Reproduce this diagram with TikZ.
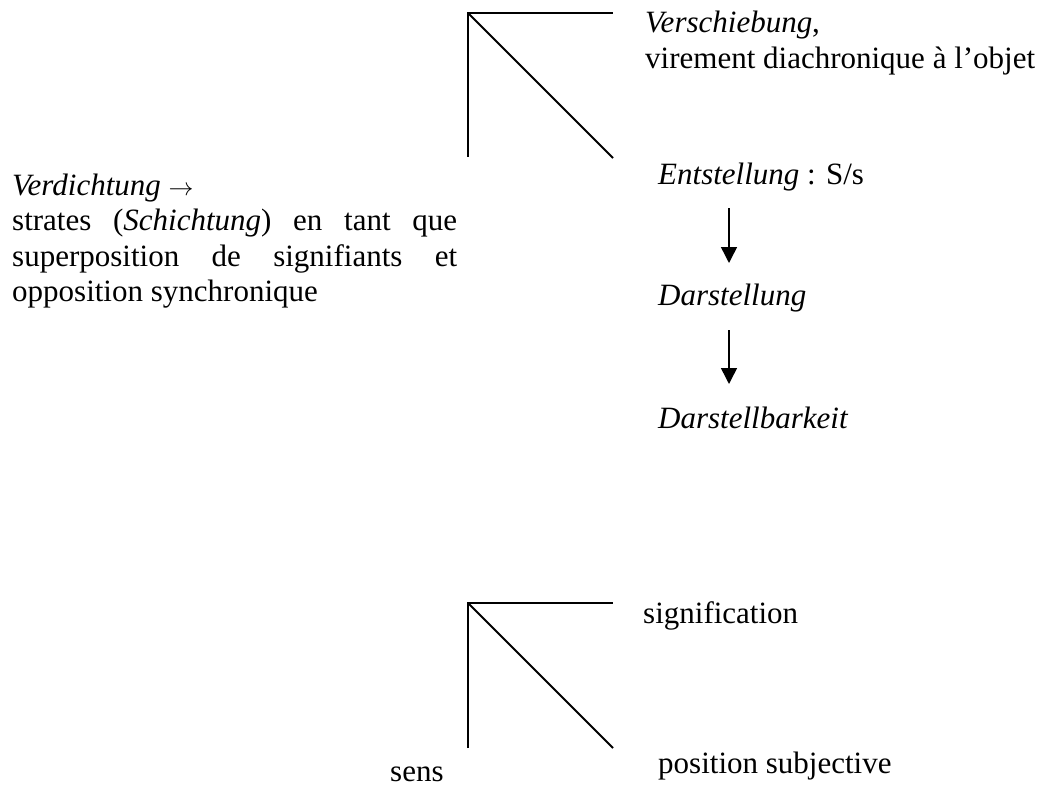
\documentclass[tikz,border=0pt]{standalone}
\usepackage{fontspec}
\setmainfont{Liberation Serif}
\usetikzlibrary{arrows.meta}
\begin{document}
\begin{tikzpicture}[x=1pt,y=-1pt,
  txt/.style={anchor=base west,inner sep=0pt,font=\fontsize{31}{35.5}\selectfont},
  ln/.style={line width=1.8pt},
  arr/.style={line width=1.5pt,-{Triangle[length=16pt,width=16pt]}}]
\useasboundingbox (0,0) rectangle (1047,789);
% top bracket
\coordinate (t0) at (468,13);
\coordinate (t1) at (468,157);
\coordinate (t2) at (613,13);
\coordinate (t3) at (613,158);
\draw[ln] (t1) -- (t0) -- (t2);
\draw[ln] (t0) -- (t3);
% bottom bracket
\coordinate (b0) at (468,603);
\coordinate (b1) at (468,748);
\coordinate (b2) at (613,603);
\coordinate (b3) at (613,748);
\draw[ln] (b1) -- (b0) -- (b2);
\draw[ln] (b0) -- (b3);
% texts
\node[txt] (versch) at (645,33) {\textit{Verschiebung},};
\node[txt] (virement) at (645,68.5) {virement diachronique à l’objet};
\node[txt,text width=445pt,align=justify] (verd) at (12,195)
  {\textit{Verdichtung} $\rightarrow$\\
   strates (\textit{Schichtung}) en tant que\linebreak superposition de signifiants et\linebreak opposition synchronique};
\node[txt] (entst) at (658,185) {\textit{Entstellung} : S/s};
\node[txt] (darst) at (658,305) {\textit{Darstellung}};
\node[txt] (darstb) at (658,428) {\textit{Darstellbarkeit}};
\node[txt] (signif) at (643,623) {signification};
\node[txt] (possub) at (658,773) {position subjective};
\node[txt] (sens) at (390,781) {sens};
% arrows
\coordinate (a1s) at (729,208);
\coordinate (a1e) at (729,263);
\coordinate (a2s) at (729,330);
\coordinate (a2e) at (729,384);
\draw[arr] (a1s) -- (a1e);
\draw[arr] (a2s) -- (a2e);
\end{tikzpicture}
\end{document}
